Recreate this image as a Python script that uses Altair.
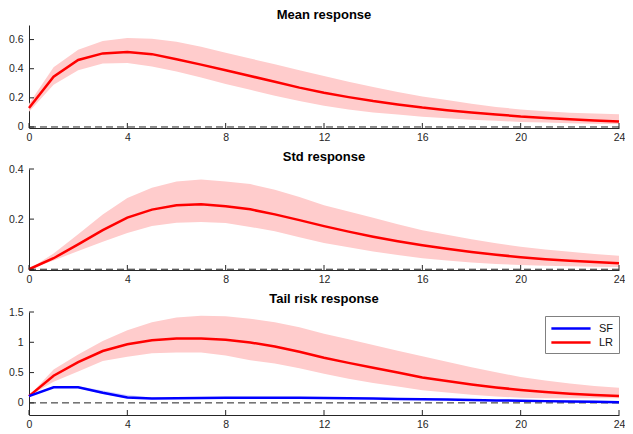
import altair as alt
import pandas as pd

steps = list(range(25))

mean_mid = [0.13, 0.345, 0.46, 0.505, 0.515, 0.50, 0.465, 0.428, 0.39, 0.35, 0.31, 0.27, 0.235,
            0.205, 0.178, 0.155, 0.133, 0.115, 0.099, 0.086, 0.072, 0.062, 0.053, 0.045, 0.037]
mean_lo = [0.105, 0.29, 0.39, 0.435, 0.44, 0.415, 0.38, 0.34, 0.295, 0.255, 0.215, 0.178, 0.145,
           0.12, 0.1, 0.085, 0.07, 0.06, 0.05, 0.042, 0.035, 0.03, 0.026, 0.023, 0.02]
mean_hi = [0.16, 0.41, 0.53, 0.59, 0.61, 0.605, 0.585, 0.55, 0.51, 0.47, 0.43, 0.39, 0.35,
           0.31, 0.275, 0.24, 0.21, 0.185, 0.16, 0.138, 0.12, 0.108, 0.098, 0.092, 0.087]

std_mid = [0.0, 0.044, 0.099, 0.156, 0.206, 0.238, 0.255, 0.259, 0.251, 0.239, 0.219, 0.196, 0.172,
           0.15, 0.13, 0.112, 0.096, 0.082, 0.069, 0.058, 0.048, 0.04, 0.034, 0.029, 0.024]
std_lo = [0.0, 0.035, 0.073, 0.11, 0.145, 0.173, 0.186, 0.189, 0.185, 0.169, 0.152, 0.128, 0.105,
          0.088, 0.071, 0.057, 0.044, 0.035, 0.027, 0.021, 0.017, 0.014, 0.012, 0.01, 0.009]
std_hi = [0.0, 0.063, 0.14, 0.218, 0.284, 0.325, 0.35, 0.358, 0.35, 0.34, 0.317, 0.288, 0.255,
          0.23, 0.205, 0.18, 0.156, 0.138, 0.12, 0.104, 0.09, 0.079, 0.07, 0.061, 0.054]

lr_mid = [0.112, 0.448, 0.671, 0.856, 0.968, 1.035, 1.063, 1.063, 1.04, 0.997, 0.93, 0.845, 0.745,
          0.66, 0.58, 0.5, 0.42, 0.36, 0.305, 0.255, 0.213, 0.18, 0.152, 0.13, 0.112]
lr_lo = [0.112, 0.35, 0.52, 0.69, 0.76, 0.82, 0.83, 0.83, 0.78, 0.705, 0.65, 0.57, 0.48,
         0.4, 0.33, 0.27, 0.21, 0.17, 0.135, 0.105, 0.085, 0.078, 0.075, 0.075, 0.075]
lr_hi = [0.112, 0.55, 0.8, 1.02, 1.2, 1.33, 1.41, 1.44, 1.43, 1.39, 1.33, 1.25, 1.14,
         1.05, 0.955, 0.86, 0.77, 0.68, 0.59, 0.505, 0.426, 0.37, 0.32, 0.28, 0.25]

sf_mid = [0.112, 0.258, 0.258, 0.168, 0.09, 0.073, 0.075, 0.08, 0.085, 0.085, 0.085, 0.083, 0.08,
          0.076, 0.071, 0.066, 0.06, 0.054, 0.047, 0.041, 0.035, 0.029, 0.023, 0.017, 0.012]
sf_lo = [0.112, 0.248, 0.245, 0.145, 0.075, 0.065, 0.068, 0.073, 0.078, 0.078, 0.078, 0.076, 0.073,
         0.069, 0.064, 0.059, 0.053, 0.047, 0.04, 0.034, 0.028, 0.022, 0.016, 0.01, 0.005]
sf_hi = [0.112, 0.27, 0.275, 0.205, 0.13, 0.088, 0.084, 0.088, 0.093, 0.093, 0.093, 0.091, 0.088,
         0.084, 0.079, 0.074, 0.068, 0.062, 0.055, 0.049, 0.043, 0.037, 0.031, 0.025, 0.02]

x_ticks = [0, 4, 8, 12, 16, 20, 24]
legend_names = ["SF", "LR"]

RED = "#ff0000"
BLUE = "#0000ff"
RED_BAND = "#ffcccc"
BLUE_BAND = "#c8c8ff"
AX = "#262626"
FONT = "Liberation Sans"
W = 590

xscale = alt.Scale(domain=[0, 24], nice=False, zero=False)
xaxis = alt.Axis(values=x_ticks, title=None, grid=False, tickSize=0,
                 labelPadding=4, domainColor=AX, labelColor=AX,
                 labelFontSize=10.5, labelFont=FONT, labelFlush=False)


def panel(title, frames, ydomain, yticks, height, title_offset, legend=False):
    yscale = alt.Scale(domain=ydomain, nice=False, zero=False)
    yaxis = alt.Axis(values=yticks, title=None, grid=False, tickSize=0, labelPadding=6,
                     domainColor=AX, labelColor=AX, labelFontSize=10.5, labelFont=FONT,
                     format="~g", labelFlush=False)
    X = lambda f: alt.X(f, scale=xscale, axis=xaxis)
    Y = lambda f: alt.Y(f, scale=yscale, axis=yaxis)
    layers = []
    for df, band_color, line_color in frames:
        layers.append(alt.Chart(df).mark_area(color=band_color,
                                              opacity=1 if band_color == RED_BAND else 0.8).encode(
            x=X("step:Q"), y=Y("lo:Q"), y2="hi:Q"))
    zero = alt.Chart(pd.DataFrame({"z": [0]})).mark_rule(
        color="#222222", strokeDash=[7, 4], strokeWidth=1).encode(y=Y("z:Q"))
    layers.append(zero)
    for df, band_color, line_color in frames:
        if legend:
            col = alt.Color("series:N",
                            scale=alt.Scale(domain=legend_names, range=[BLUE, RED]),
                            legend=alt.Legend(orient="none", legendX=516, legendY=4, title=None,
                                              symbolType="M-1,0L5.4,0", symbolSize=150,
                                              symbolStrokeWidth=2.5, strokeColor="#808080",
                                              fillColor="white", padding=5, labelFontSize=11,
                                              labelFont=FONT, labelColor="#111111",
                                              rowPadding=1, labelOffset=34))
        else:
            col = alt.value(line_color)
        layers.append(alt.Chart(df).mark_line(strokeWidth=2.5).encode(
            x=X("step:Q"), y=Y("mid:Q"), color=col))
    xt = alt.Chart(pd.DataFrame({"t": x_ticks})).mark_rule(color=AX, strokeWidth=1).encode(
        x=X("t:Q"), y=alt.value(height), y2=alt.value(height - 5))
    yt = alt.Chart(pd.DataFrame({"t": yticks})).mark_rule(color=AX, strokeWidth=1).encode(
        y=Y("t:Q"), x=alt.value(0), x2=alt.value(5))
    layers += [xt, yt]
    return alt.layer(*layers).properties(
        width=W, height=height,
        title=alt.TitleParams(title, fontSize=13, font=FONT, fontWeight="bold",
                              color="#000000", offset=title_offset, anchor="middle"))


def frame(mid, lo, hi, series):
    return pd.DataFrame({"step": steps, "mid": mid, "lo": lo, "hi": hi, "series": series})


p1 = panel("Mean response", [(frame(mean_mid, mean_lo, mean_hi, "LR"), RED_BAND, RED)],
           [-0.007, 0.7], [0, 0.2, 0.4, 0.6], 103, 3)
p2 = panel("Std response", [(frame(std_mid, std_lo, std_hi, "LR"), RED_BAND, RED)],
           [-0.003, 0.4], [0, 0.2, 0.4], 101, 0)
p3 = panel("Tail risk response",
           [(frame(lr_mid, lr_lo, lr_hi, "LR"), RED_BAND, RED),
            (frame(sf_mid, sf_lo, sf_hi, "SF"), BLUE_BAND, BLUE)],
           [-0.2, 1.5], [0, 0.5, 1, 1.5], 103, 1, legend=True)

chart = alt.vconcat(p1, p2, p3, spacing=8).resolve_scale(
    color="independent", y="independent"
).properties(
    padding={"left": 0, "top": 1, "right": 0, "bottom": 0}, background="white"
).configure_view(stroke=None)

chart.save("out.html", embed_options={"renderer": "svg", "actions": False})
